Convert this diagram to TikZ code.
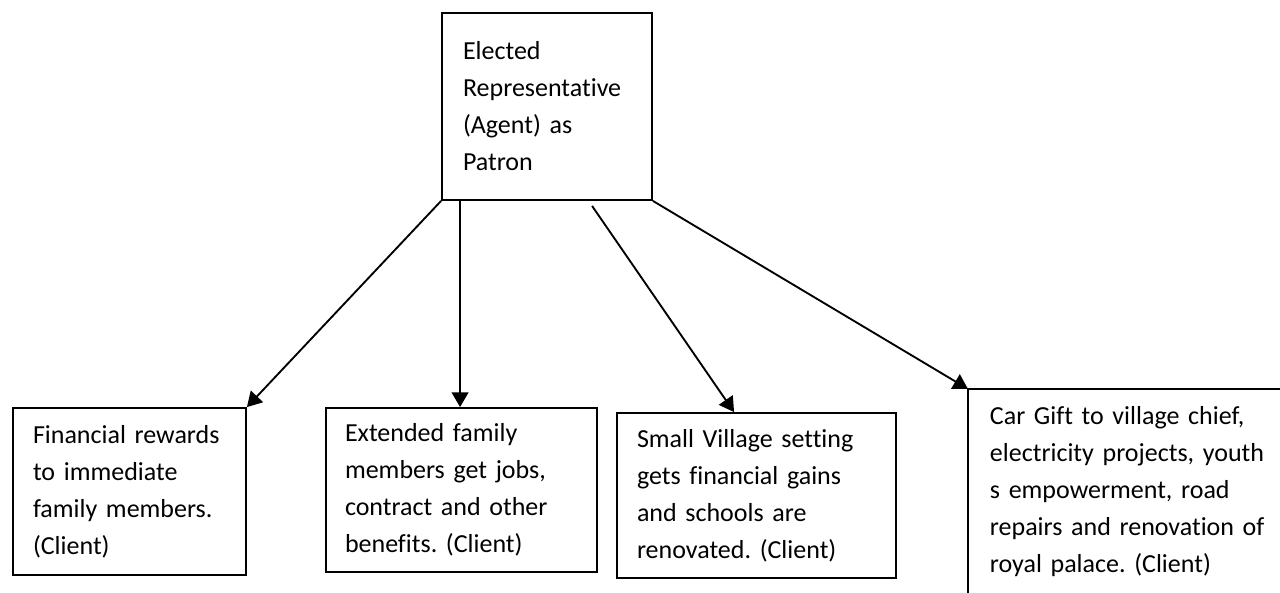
\documentclass[tikz,border=0pt]{standalone}
\usepackage{fontspec}
\setmainfont{Carlito}[Ligatures=NoCommon]
\usetikzlibrary{arrows.meta,positioning,calc}

\tikzset{
    box/.style={draw,line width=1.4pt,align=left,inner ysep=0pt,
        font=\frenchspacing\fontsize{19.5}{27.75}\selectfont},
    link/.style={line width=1.4pt,-{Triangle[length=11pt,width=12.5pt]}}
}

\begin{document}
\begin{tikzpicture}[x=0.75pt,y=-0.75pt]
    \useasboundingbox (0,0) rectangle (1280,592);

    % Patron at the top
    \node[box,minimum width=157.5pt,minimum height=140.25pt,
        text width=126pt,inner xsep=15.75pt] (patron) at (547,106.5)
        {Elected\\Representative\\(Agent) as\\Patron};

    % Clients in a row
    \node[box,minimum width=174.75pt,minimum height=125.25pt,
        text width=144.75pt,inner xsep=15pt] (family) at (129.5,491.5)
        {Financial rewards\\to immediate\\family members.\\(Client)};
    \node[box,minimum width=203.25pt,minimum height=123pt,
        text width=174.75pt,inner xsep=14.25pt] (extended) at (461.5,490)
        {Extended family\\members get jobs,\\contract and other\\benefits. (Client)};
    \node[box,minimum width=209.25pt,minimum height=123.75pt,
        text width=179.25pt,inner xsep=15pt] (village) at (756.5,495.5)
        {Small Village setting\\gets financial gains\\and schools are\\renovated. (Client)};

    % Last client box, open at right and bottom
    \node[box,draw=none,anchor=north west,minimum height=152.25pt,
        text width=217.5pt,inner xsep=15.75pt] (gifts) at (968,389)
        {Car Gift to village chief,\\electricity projects, youth\\s empowerment, road\\repairs and renovation of\\royal palace. (Client)};
    \draw[line width=1.4pt] (gifts.north east) -- (gifts.north west) -- (gifts.south west);

    % Patron to clients
    \draw[link] (patron.south west) -- (family.north east);
    \draw[link] ([xshift=14.25pt]patron.south west) -- ([xshift=14.25pt]patron.south west |- extended.north);
    \draw[link] ($(patron.south west)+(151,5)$) -- ($(village.north west)+(118,0)$);
    \draw[link] (patron.south east) -- (gifts.north west);
\end{tikzpicture}
\end{document}
